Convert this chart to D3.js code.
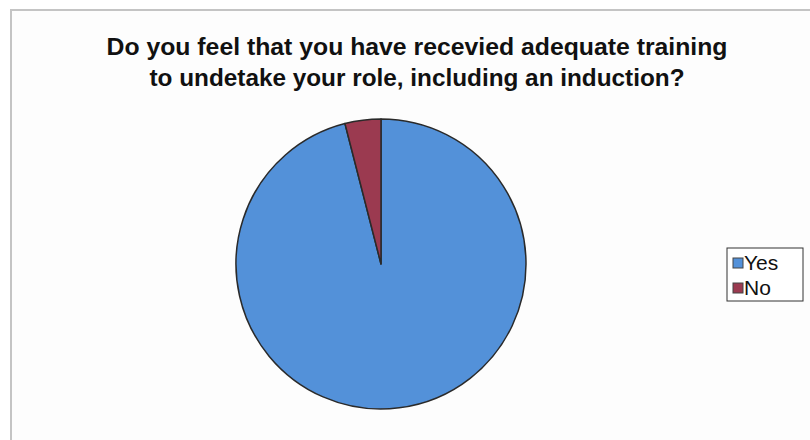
<!DOCTYPE html>
<html>
<head>
<meta charset="utf-8">
<script src="https://cdn.jsdelivr.net/npm/d3@7"></script>
<style>
  html, body { margin: 0; padding: 0; background: #ffffff; }
  svg { display: block; }
</style>
</head>
<body>
<div id="chart"></div>
<script>
// Chart data
const categories = ['Yes', 'No'];
const values = [96, 4];
const colors = ['#5391d9', '#9b3a50'];
const titleLines = [
  'Do you feel that you have recevied adequate training',
  'to undetake your role, including an induction?'
];

const width = 810, height = 440;

const svg = d3.select('#chart')
  .append('svg')
  .attr('width', width)
  .attr('height', height);

// chart area frame
svg.append('rect')
  .attr('x', 11).attr('y', 10)
  .attr('width', width + 10).attr('height', height + 10)
  .attr('fill', '#fdfdfd')
  .attr('stroke', '#c4c4c4')
  .attr('stroke-width', 2);

// title
const titleWidths = [621, 535];
svg.append('g')
  .selectAll('text')
  .data(titleLines)
  .join('text')
  .attr('x', 417)
  .attr('y', (d, i) => 55 + i * 31)
  .attr('text-anchor', 'middle')
  .attr('font-family', 'Liberation Sans, Arial, sans-serif')
  .attr('font-weight', 'bold')
  .attr('font-size', 24)
  .attr('fill', '#111')
  .attr('textLength', (d, i) => titleWidths[i])
  .attr('lengthAdjust', 'spacingAndGlyphs')
  .text(d => d);

// pie
const cx = 381, cy = 264, radius = 145;
const pie = d3.pie().sort(null).value(d => d.value);
const arc = d3.arc().innerRadius(0).outerRadius(radius);
const data = categories.map((c, i) => ({ name: c, value: values[i] }));

svg.append('g')
  .attr('transform', `translate(${cx},${cy})`)
  .selectAll('path')
  .data(pie(data))
  .join('path')
  .attr('d', arc)
  .attr('fill', (d, i) => colors[i])
  .attr('stroke', '#2a2a2a')
  .attr('stroke-width', 1.5)
  .attr('stroke-linejoin', 'round');

// legend
const legend = svg.append('g').attr('transform', 'translate(727,248)');
legend.append('rect')
  .attr('width', 76).attr('height', 53)
  .attr('fill', '#fff')
  .attr('stroke', '#333')
  .attr('stroke-width', 1);

const items = legend.selectAll('g.item')
  .data(categories)
  .join('g')
  .attr('class', 'item')
  .attr('transform', (d, i) => `translate(6,${10 + i * 25})`);

items.append('rect')
  .attr('width', 10).attr('height', 10)
  .attr('fill', (d, i) => colors[i])
  .attr('stroke', '#444')
  .attr('stroke-width', 1);

items.append('text')
  .attr('x', 11)
  .attr('y', 12)
  .attr('font-family', 'Liberation Sans, Arial, sans-serif')
  .attr('font-size', 21)
  .attr('fill', '#111')
  .text(d => d);
</script>
</body>
</html>
